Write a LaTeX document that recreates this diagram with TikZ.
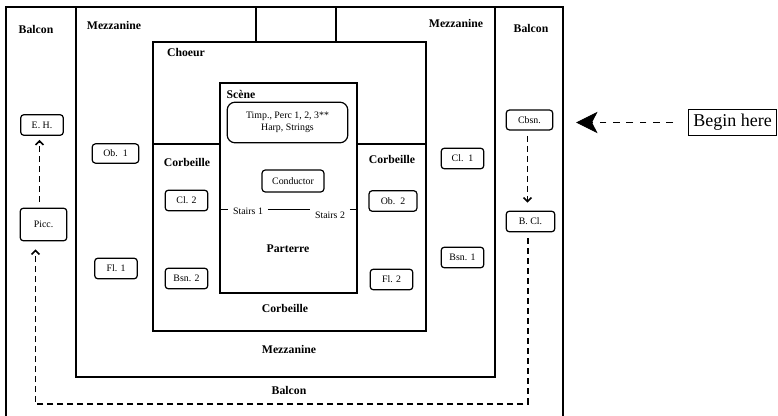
\documentclass[tikz,border=0pt]{standalone}
\usepackage{fontspec}
\setmainfont{Liberation Serif}
\usetikzlibrary{positioning,arrows.meta}

\begin{document}
\begin{tikzpicture}[x=0.75pt,y=-0.75pt,
    room/.style={draw,line width=1pt},
    area/.style={font=\fontsize{8.8}{10}\selectfont\bfseries},
    instr/.style={draw,rounded corners=2.5pt,line width=0.9pt,minimum width=32pt,minimum height=15.5pt,inner sep=1pt,font=\fontsize{7.4}{9}\selectfont},
    stairs/.style={inner sep=3.5pt,font=\fontsize{7.4}{9}\selectfont},
    flow/.style={-{Straight Barb[length=3pt,width=6pt]},dash pattern=on 4.5pt off 3pt,line width=1.1pt},
    start/.style={-{Stealth[length=16pt,width=16pt,inset=4pt]},dash pattern=on 5pt off 5pt,line width=0.7pt},
]
\useasboundingbox (0,0) rectangle (778,416);

% Halls, outside in
\draw[room] (6,420) -- (6,7) -- (563,7) -- (563,420);
\draw[room] (76,7) rectangle (495,377);
\draw[room] (256,7) rectangle (336,42);
\draw[room] (153,42) rectangle (426,331);
\draw[room] (220,83) rectangle (357,293);
\draw[room] (153,144) -- (220,144);
\draw[room] (357,144) -- (426,144);

% Hall names
\node[area] (balconl)  at (36,29)   {Balcon};
\node[area] (balconr)  at (531,28)  {Balcon};
\node[area] (balconb)  at (289,390) {Balcon};
\node[area] (mezzl)    at (114,25)  {Mezzanine};
\node[area] (mezzr)    at (456,23)  {Mezzanine};
\node[area] (mezzb)    at (289,349) {Mezzanine};
\node[area] (choeur)   at (186,53)  {Choeur};
\node[area] (scene)    at (241,94)  {Scène};
\node[area] (corbl)    at (187,162) {Corbeille};
\node[area] (corbr)    at (392,159) {Corbeille};
\node[area] (corbb)    at (285,308) {Corbeille};
\node[area] (parterre) at (288,249) {Parterre};

% Players
\node[instr,rounded corners=6pt,minimum width=90.5pt,minimum height=30.5pt,align=center]
  (tutti) at (287.5,122.5) {Timp., Perc 1, 2, 3**\\Harp, Strings};
\node[instr,minimum width=46.5pt,minimum height=16.5pt] (cond) at (293,181) {Conductor};
\node[instr] (eh)   at (42,125)  {E. H.};
\node[instr,minimum width=35pt,minimum height=24.5pt] (picc) at (43.5,224.5) {Picc.};
\node[instr,minimum width=35pt,minimum height=14.5pt] (ob1) at (115.5,153.5) {Ob.\ \ 1};
\node[instr] (fl1)  at (116,268.5) {Fl. 1};
\node[instr] (cl2)  at (186.5,200.5) {Cl. 2};
\node[instr] (bsn2) at (186.5,278.5) {Bsn. 2};
\node[instr,minimum width=36pt] (ob2) at (393,201) {Ob.\ \ 2};
\node[instr] (fl2)  at (391.5,279.5) {Fl. 2};
\node[instr] (cl1)  at (462.5,158.5) {Cl.\ \ 1};
\node[instr] (bsn1) at (462.5,257.5) {Bsn. 1};
\node[instr,minimum width=35pt,minimum height=15pt] (cbsn) at (529.5,120) {Cbsn.};
\node[instr,minimum width=36.5pt] (bcl) at (530.5,221.5) {B. Cl.};

% Stairs
\coordinate (stl) at (220,209);
\coordinate (str) at (357,209);
\node[stairs] (st1) at (248,211) {Stairs 1};
\node[stairs] (st2) at (330,215) {Stairs 2};
\draw[line width=0.7pt] (stl) -- (stl -| st1.west);
\draw[line width=0.7pt] (st1.east |- stl) -- (st2.west |- stl);
\draw[line width=0.7pt] (st2.east |- stl) -- (str);

% Order of play
\coordinate (ret) at (0,404);
\draw[flow,shorten <=4pt,shorten >=3pt] ([xshift=-3pt]picc.north) -- ([xshift=-3pt]picc.north |- eh.south);
\draw[flow,shorten <=4pt,shorten >=6pt] ([xshift=-1.5pt]cbsn.south) -- ([xshift=-1.5pt]cbsn.south |- bcl.north);
\draw[flow,shorten <=4.5pt,shorten >=6pt] ([xshift=-2pt]bcl.south) -- ([xshift=-2pt]bcl.south |- ret)
  -| ([xshift=-6pt]picc.south);

% Start
\node[draw,line width=0.6pt,inner sep=1pt,minimum width=66.5pt,minimum height=20pt,
  font=\fontsize{13.5}{15}\selectfont] (begin) at (732.5,122.5) {Begin here};
\draw[start,shorten <=11pt,shorten >=17pt] (begin.west) -- (begin.west -| cbsn.east);
\end{tikzpicture}
\end{document}
